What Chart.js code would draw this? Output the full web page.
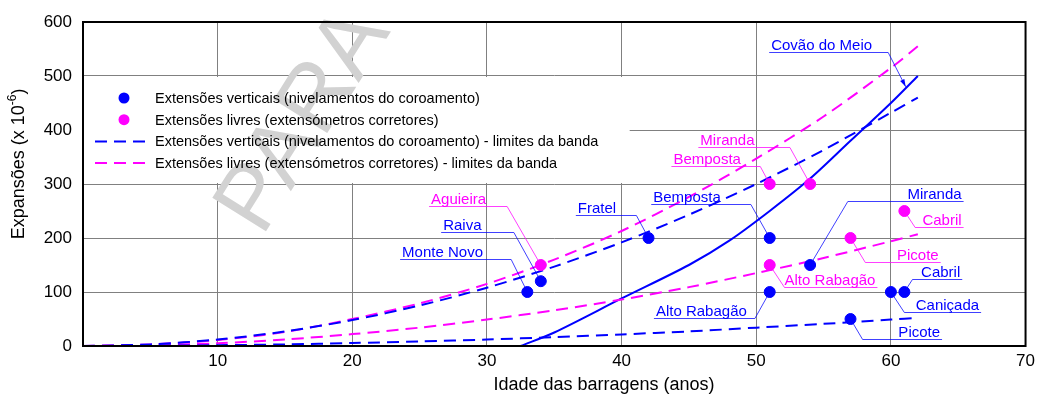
<!DOCTYPE html>
<html lang="pt">
<head>
<meta charset="utf-8">
<title>Expansões das barragens</title>
<script src="https://cdn.jsdelivr.net/npm/chart.js@4.4.1/dist/chart.umd.min.js"></script>
<style>
  body { margin: 0; background: #fff; }
  canvas { display: block; }
</style>
</head>
<body>
<canvas id="chart" width="1040" height="403"></canvas>
<script>
// ========== DATA ==========
const xTicks = [0, 10, 20, 30, 40, 50, 60, 70];
const xTickLabels = ["", "10", "20", "30", "40", "50", "60", "70"];
const yTicks = [0, 100, 200, 300, 400, 500, 600];

// Extensões verticais (nivelamentos do coroamento)
const vertNames = ["Monte Novo", "Raiva", "Fratel", "Bemposta", "Alto Rabagão", "Miranda", "Picote", "Caniçada", "Cabril"];
const vertAge = [33, 34, 42, 51, 51, 54, 57, 60, 61];
const vertExp = [100, 120, 200, 200, 100, 150, 50, 100, 100];

// Extensões livres (extensómetros corretores)
const freeNames = ["Aguieira", "Bemposta", "Miranda", "Alto Rabagão", "Picote", "Cabril"];
const freeAge = [34, 51, 54, 51, 57, 61];
const freeExp = [150, 300, 300, 150, 200, 250];

// band limits
const bandAge = [0, 5, 10, 15, 20, 25, 30, 35, 40, 45, 50, 55, 60, 62];
const vertUpper = [0, 3, 12, 27, 48, 75, 108, 147, 192, 243, 300, 363, 432, 460];
const vertLower = [0, 0.5, 1.5, 3, 5.5, 8.5, 12, 16.5, 21.5, 27, 34, 41, 49, 52];
const freeUpper = [0, 3, 11, 26, 50, 79, 115, 160, 213, 276, 347, 425, 515, 555];
const freeLower = [0, 1, 5, 12, 22, 34, 49, 66, 86, 109, 135, 163, 194, 207];

// Covão do Meio
const covaoAge = [32.5, 35, 40, 45, 48, 51, 54, 57, 60, 62];
const covaoExp = [0, 25, 88, 150, 195, 250, 310, 380, 450, 500];

// callouts: underline height / span in axis units, leader goes to the dam point
const callouts = [
    { text: "Aguieira", set: "free", y: 259, x0: 25.7, x1: 31.5, side: "right" },
    { text: "Raiva", set: "vert", y: 211, x0: 26.6, x1: 32.0, side: "right" },
    { text: "Monte Novo", set: "vert", y: 161, x0: 23.55, x1: 31.8, side: "right" },
    { text: "Fratel", set: "vert", y: 243, x0: 36.6, x1: 41.1, side: "right" },
    { text: "Bemposta", set: "vert", y: 263, x0: 42.2, x1: 49.6, side: "right" },
    { text: "Miranda", set: "free", y: 368, x0: 45.7, x1: 52.5, side: "right" },
    { text: "Bemposta", set: "free", y: 333, x0: 43.7, x1: 50.3, side: "right" },
    { text: "Alto Rabagão", set: "vert", y: 52, x0: 42.4, x1: 49.9, side: "right" },
    { text: "Alto Rabagão", set: "free", y: 109, x0: 52.1, x1: 59.0, side: "left" },
    { text: "Miranda", set: "vert", y: 268, x0: 56.8, x1: 65.4, side: "left" },
    { text: "Cabril", set: "free", y: 220, x0: 61.8, x1: 65.4, side: "left" },
    { text: "Picote", set: "free", y: 156, x0: 58.1, x1: 63.7, side: "left" },
    { text: "Cabril", set: "vert", y: 124, x0: 61.6, x1: 65.3, side: "left" },
    { text: "Caniçada", set: "vert", y: 63, x0: 61.0, x1: 66.7, side: "left" },
    { text: "Picote", set: "vert", y: 13, x0: 57.9, x1: 63.8, side: "left" },
    { text: "Covão do Meio", y: 544, x0: 50.96, x1: 59.8, side: "right", at: [61.1, 480], arrow: true }
];

const BLUE = "#0000ff";
const MAGENTA = "#ff00ff";
const FONT = "'Liberation Sans', Arial, sans-serif";

const pts = (xs, ys) => xs.map((x, i) => ({ x: x, y: ys[i] }));

// ========== PLUGINS ==========
// legend box + watermark, behind the curves
const backPlugin = {
    id: "back",
    beforeDatasetsDraw(chart) {
        const { ctx, scales: { x, y } } = chart;
        ctx.save();
        // legend panel hides the grid
        ctx.fillStyle = "#fff";
        ctx.fillRect(x.getPixelForValue(0), y.getPixelForValue(500) + 1, x.getPixelForValue(40.6) - x.getPixelForValue(0), y.getPixelForValue(300) - y.getPixelForValue(500) - 2);
        // watermark
        ctx.translate(305, 121);
        ctx.rotate(-58 * Math.PI / 180);
        ctx.font = "92px " + FONT;
        ctx.fillStyle = "#d2d2d2";
        ctx.textAlign = "center";
        ctx.textBaseline = "middle";
        ctx.fillText("PARA", 0, 0);
        ctx.restore();
    }
};

const frontPlugin = {
    id: "front",
    afterDatasetsDraw(chart) {
        const { ctx, chartArea: a, scales: { x, y } } = chart;
        ctx.save();

        // frame
        ctx.strokeStyle = "#000";
        ctx.lineWidth = 2;
        ctx.strokeRect(a.left, a.top, a.right - a.left, a.bottom - a.top);

        // legend
        const lx = a.left, ly = y.getPixelForValue(500);
        const rows = [
            { type: "dot", color: BLUE, text: chart.data.datasets[0].label },
            { type: "dot", color: MAGENTA, text: chart.data.datasets[1].label },
            { type: "dash", color: BLUE, text: chart.data.datasets[2].label },
            { type: "dash", color: MAGENTA, text: chart.data.datasets[4].label }
        ];
        ctx.font = "14.5px " + FONT;
        ctx.textBaseline = "middle";
        rows.forEach((r, i) => {
            const ry = ly + 22 + i * 21.7;
            if (r.type === "dot") {
                ctx.fillStyle = r.color;
                ctx.beginPath();
                ctx.arc(lx + 41, ry, 5.5, 0, Math.PI * 2);
                ctx.fill();
            } else {
                ctx.strokeStyle = r.color;
                ctx.lineWidth = 2;
                ctx.setLineDash([12, 7]);
                ctx.beginPath();
                ctx.moveTo(lx + 12, ry);
                ctx.lineTo(lx + 65, ry);
                ctx.stroke();
                ctx.setLineDash([]);
            }
            ctx.fillStyle = "#000";
            ctx.textAlign = "left";
            ctx.fillText(r.text, lx + 72, ry + 1);
        });

        // callouts
        ctx.font = "15px " + FONT;
        ctx.textBaseline = "alphabetic";
        callouts.forEach(c => {
            const color = c.set === "free" ? MAGENTA : BLUE;
            let target;
            if (c.at) {
                target = c.at;
            } else {
                const names = c.set === "free" ? freeNames : vertNames;
                const i = names.indexOf(c.text);
                target = c.set === "free" ? [freeAge[i], freeExp[i]] : [vertAge[i], vertExp[i]];
            }
            const uy = Math.round(y.getPixelForValue(c.y)) + 0.5;
            const ux0 = x.getPixelForValue(c.x0), ux1 = x.getPixelForValue(c.x1);
            const tx = x.getPixelForValue(target[0]), ty = y.getPixelForValue(target[1]);
            const sx = c.side === "right" ? ux1 : ux0;

            ctx.strokeStyle = color;
            ctx.globalAlpha = 0.75;
            ctx.lineWidth = 1;
            ctx.beginPath();
            ctx.moveTo(ux0, uy);
            ctx.lineTo(ux1, uy);
            ctx.moveTo(sx, uy);
            ctx.lineTo(tx, ty);
            ctx.stroke();
            ctx.globalAlpha = 1;

            if (c.arrow) {
                const ang = Math.atan2(ty - uy, tx - sx);
                ctx.fillStyle = color;
                ctx.beginPath();
                ctx.moveTo(tx, ty);
                ctx.lineTo(tx - 8 * Math.cos(ang - 0.3), ty - 8 * Math.sin(ang - 0.3));
                ctx.lineTo(tx - 8 * Math.cos(ang + 0.3), ty - 8 * Math.sin(ang + 0.3));
                ctx.closePath();
                ctx.fill();
            }

            ctx.fillStyle = color;
            if (c.side === "right") {
                ctx.textAlign = "left";
                ctx.fillText(c.text, ux0 + 2, uy - 3);
            } else {
                ctx.textAlign = "right";
                ctx.fillText(c.text, ux1 - 2, uy - 3);
            }
        });

        // axis titles
        ctx.fillStyle = "#000";
        ctx.font = "18px " + FONT;
        ctx.textAlign = "center";
        ctx.textBaseline = "middle";
        ctx.fillText("Idade das barragens (anos)", 604, 385);

        ctx.translate(19, 164);
        ctx.rotate(-Math.PI / 2);
        const p1 = "Expansões (x 10", sup = "-6", p2 = ")";
        ctx.font = "18px " + FONT;
        const w1 = ctx.measureText(p1).width, w2 = ctx.measureText(p2).width;
        ctx.font = "12px " + FONT;
        const ws = ctx.measureText(sup).width;
        let cx = -(w1 + ws + w2) / 2;
        ctx.textAlign = "left";
        ctx.font = "18px " + FONT;
        ctx.fillText(p1, cx, 0);
        cx += w1;
        ctx.font = "12px " + FONT;
        ctx.fillText(sup, cx, -6);
        cx += ws;
        ctx.font = "18px " + FONT;
        ctx.fillText(p2, cx, 0);
        ctx.restore();
    }
};

// ========== CHART ==========
Chart.defaults.font.family = FONT;

const dash = (label, color, xs, ys) => ({
    label: label,
    data: pts(xs, ys),
    showLine: true,
    borderColor: color,
    borderWidth: 2,
    borderDash: [12, 7],
    pointRadius: 0,
    tension: 0.3
});

new Chart(document.getElementById("chart"), {
    type: "scatter",
    data: {
        datasets: [
            {
                label: "Extensões verticais (nivelamentos do coroamento)",
                data: pts(vertAge, vertExp),
                backgroundColor: BLUE,
                borderColor: BLUE,
                pointRadius: 5.5,
                order: 0
            },
            {
                label: "Extensões livres (extensómetros corretores)",
                data: pts(freeAge, freeExp),
                backgroundColor: MAGENTA,
                borderColor: MAGENTA,
                pointRadius: 5.5,
                order: 0
            },
            dash("Extensões verticais (nivelamentos do coroamento) - limites da banda", BLUE, bandAge, vertUpper),
            dash("Extensões verticais (nivelamentos do coroamento) - limites da banda", BLUE, bandAge, vertLower),
            dash("Extensões livres (extensómetros corretores) - limites da banda", MAGENTA, bandAge, freeUpper),
            dash("Extensões livres (extensómetros corretores) - limites da banda", MAGENTA, bandAge, freeLower),
            {
                label: "Covão do Meio",
                data: pts(covaoAge, covaoExp),
                showLine: true,
                borderColor: BLUE,
                borderWidth: 2,
                pointRadius: 0,
                tension: 0.3
            }
        ]
    },
    options: {
        responsive: false,
        animation: false,
        layout: { padding: { top: 22, right: 12, left: 0, bottom: 0 } },
        plugins: { legend: { display: false }, tooltip: { enabled: false } },
        scales: {
            x: {
                type: "linear",
                min: 0,
                max: 70,
                afterBuildTicks: s => { s.ticks = xTicks.map(v => ({ value: v })); },
                ticks: {
                    callback: (v, i) => xTickLabels[i],
                    color: "#000",
                    font: { size: 17 },
                    padding: 5,
                    maxRotation: 0
                },
                grid: { color: "#808080", lineWidth: 1, drawTicks: false },
                border: { display: false },
                afterFit: s => { s.height = 57; }
            },
            y: {
                min: 0,
                max: 600,
                afterBuildTicks: s => { s.ticks = yTicks.map(v => ({ value: v })); },
                ticks: {
                    color: "#000",
                    font: { size: 17 },
                    padding: 11
                },
                grid: { color: "#808080", lineWidth: 1, drawTicks: false },
                border: { display: false },
                afterFit: s => { s.width = 83; }
            }
        }
    },
    plugins: [backPlugin, frontPlugin]
});
</script>
</body>
</html>
